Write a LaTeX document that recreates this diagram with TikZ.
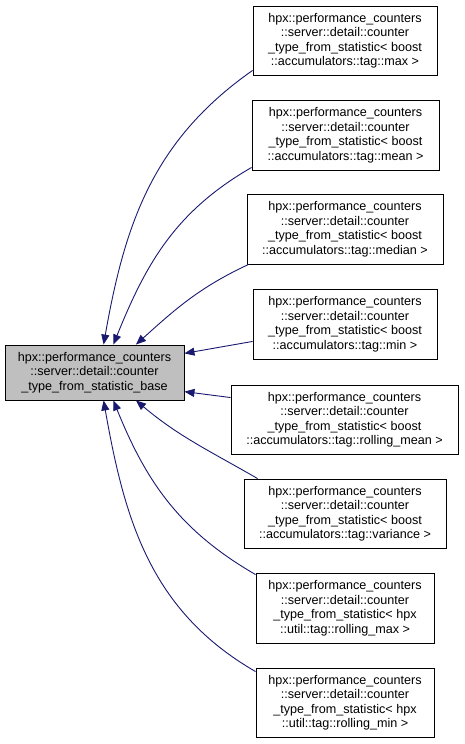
\documentclass[tikz,border=0pt]{standalone}
\usepackage{fontspec}
\setmainfont{Liberation Sans}
\usetikzlibrary{arrows.meta}
\definecolor{dxnavy}{RGB}{25,25,112}
\definecolor{dxgray}{RGB}{191,191,191}

\begin{document}
\begin{tikzpicture}[x=1pt,y=-1pt,
  cls/.style={draw=black,line width=0.9pt,fill=white,inner sep=0pt,align=center,
    font=\fontsize{12.6}{14.5}\selectfont},
  edge/.style={dxnavy,line width=0.9pt,{Triangle[length=10pt,width=8pt]}-}]
  \useasboundingbox (0,0) rectangle (464,744);
  \node[cls,fill=dxgray,minimum width=179pt,minimum height=55pt] (base) at (94.5,372.5)
    {hpx::performance\_counters\\::server::detail::counter\\\_type\_from\_statistic\_base};
  \node[cls,minimum width=184pt,minimum height=69pt] (dmax) at (345,40.5)
    {hpx::performance\_counters\\::server::detail::counter\\\_type\_from\_statistic< boost\\::accumulators::tag::max >};
  \node[cls,minimum width=187pt,minimum height=70pt] (dmean) at (345.5,135)
    {hpx::performance\_counters\\::server::detail::counter\\\_type\_from\_statistic< boost\\::accumulators::tag::mean >};
  \node[cls,minimum width=196pt,minimum height=70pt] (dmedian) at (345,229)
    {hpx::performance\_counters\\::server::detail::counter\\\_type\_from\_statistic< boost\\::accumulators::tag::median >};
  \node[cls,minimum width=184pt,minimum height=70pt] (dmin) at (345,324)
    {hpx::performance\_counters\\::server::detail::counter\\\_type\_from\_statistic< boost\\::accumulators::tag::min >};
  \node[cls,minimum width=227pt,minimum height=69pt] (drmean) at (344.5,419.5)
    {hpx::performance\_counters\\::server::detail::counter\\\_type\_from\_statistic< boost\\::accumulators::tag::rolling\_mean >};
  \node[cls,minimum width=202pt,minimum height=69pt] (dvar) at (345,513.5)
    {hpx::performance\_counters\\::server::detail::counter\\\_type\_from\_statistic< boost\\::accumulators::tag::variance >};
  \node[cls,minimum width=178pt,minimum height=70pt] (drmax) at (345,608)
    {hpx::performance\_counters\\::server::detail::counter\\\_type\_from\_statistic< hpx\\::util::tag::rolling\_max >};
  \node[cls,minimum width=178pt,minimum height=69pt] (drmin) at (345,702.5)
    {hpx::performance\_counters\\::server::detail::counter\\\_type\_from\_statistic< hpx\\::util::tag::rolling\_min >};
  % inheritance edges, tip on the base class
  \draw[edge] (base.72) to[out=80,in=215] ([yshift=5pt]dmax.south west);
  \draw[edge] (base.56) to[out=68,in=210] ([yshift=3pt]dmean.south west);
  \draw[edge] (base.34) to[out=42,in=205] ([xshift=2pt]dmedian.south west);
  \draw[edge] (base.12) -- ([yshift=18pt]dmin.south west);
  \draw[edge] (base.-12) -- ([yshift=-13pt]drmean.north west);
  \draw[edge] (base.-34) to[out=-40,in=150] ([xshift=14pt]dvar.north west);
  \draw[edge] (base.-56) to[out=-68,in=150] ([yshift=-2pt]drmax.north west);
  \draw[edge] (base.-72) to[out=-80,in=150] ([yshift=-4pt]drmin.north west);
\end{tikzpicture}
\end{document}
